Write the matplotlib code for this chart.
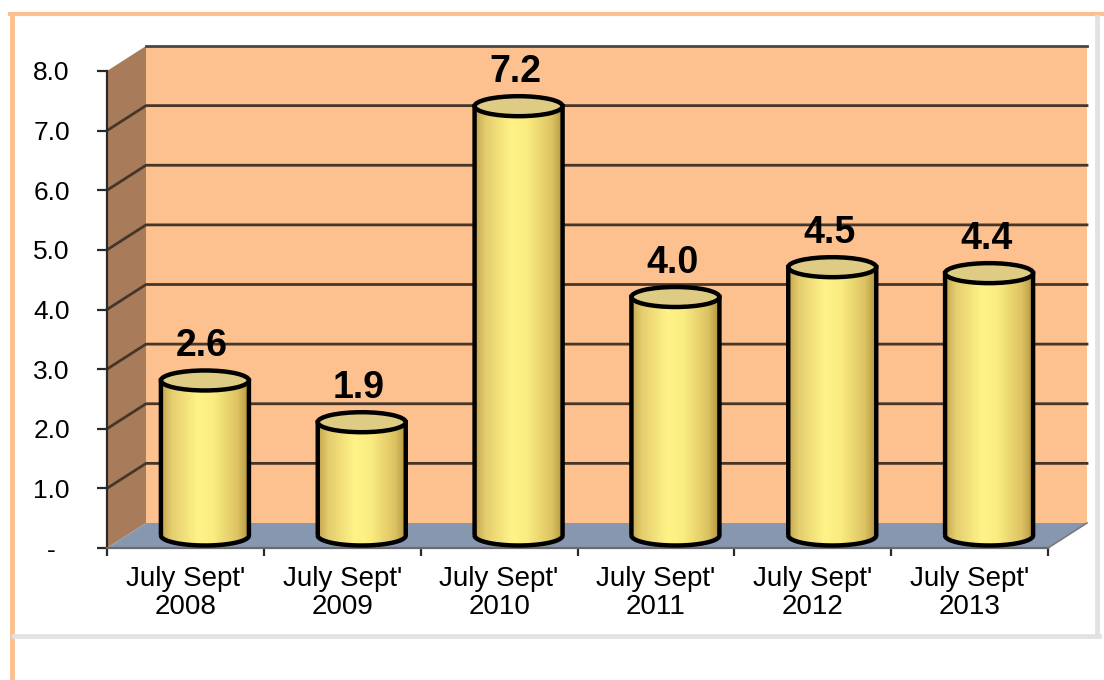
import numpy as np
import matplotlib.pyplot as plt
from matplotlib.patches import Polygon, Ellipse, PathPatch
from matplotlib.path import Path
from matplotlib.lines import Line2D
from matplotlib.colors import LinearSegmentedColormap

plt.rcParams['font.family'] = ['Liberation Sans', 'DejaVu Sans']

# data
periods = ["July Sept'\n2008", "July Sept'\n2009", "July Sept'\n2010",
           "July Sept'\n2011", "July Sept'\n2012", "July Sept'\n2013"]
values = [2.6, 1.9, 7.2, 4.0, 4.5, 4.4]
y_ticks = [0, 1, 2, 3, 4, 5, 6, 7, 8]
y_labels = ['-', '1.0', '2.0', '3.0', '4.0', '5.0', '6.0', '7.0', '8.0']

W, H = 1104, 680
fig = plt.figure(figsize=(W / 100, H / 100), dpi=100)
fig.patch.set_facecolor('white')

# front plane of the fake 3-d box
ax = fig.add_axes([107 / W, 132 / H, 941 / W, 477 / H])
n = len(values)
ax.set_xlim(0, n)
ax.set_ylim(0, 8)
ax.set_facecolor('none')

px = n / 941.0   # data units per pixel, x
py = 8 / 477.0   # data units per pixel, y
DX, DY = 39 * px, 25 * py
bar_w = 88 * px
ell_h = 20 * py

# walls and floor
back = Polygon([(DX, DY), (n + DX, DY), (n + DX, 8 + DY), (DX, 8 + DY)],
               closed=True, fc='#FCC18F', ec='none', zorder=1, clip_on=False)
side = Polygon([(0, 0), (DX, DY), (DX, 8 + DY), (0, 8)],
               closed=True, fc='#A87C5B', ec='none', zorder=1, clip_on=False)
floor = Polygon([(0, 0), (n, 0), (n + DX, DY), (DX, DY)],
                closed=True, fc='#8797B0', ec='none', zorder=1.5, clip_on=False)
for p in (back, side, floor):
    ax.add_patch(p)

for v in y_ticks[1:-1]:
    ax.plot([0, DX, n + DX], [v, v + DY, v + DY], color='#46362A', lw=2,
            zorder=2, clip_on=False)
ax.plot([DX, n + DX], [8 + DY, 8 + DY], color='#464646', lw=2, zorder=2,
        clip_on=False)
ax.plot([n, n + DX], [0, DY], color='#7A7A7A', lw=1.2, zorder=2, clip_on=False)

# cylinders
cmap = LinearSegmentedColormap.from_list('gold', [
    (0.0, '#C2A54E'), (0.12, '#E4CD6E'), (0.42, '#FFF388'),
    (0.6, '#FAEC80'), (0.88, '#DCC262'), (1.0, '#B3963F')])
grad = np.linspace(0, 1, 256).reshape(1, -1)
a, b = bar_w / 2, ell_h / 2
t_arc = np.linspace(0, -np.pi, 60)

for i, v in enumerate(values):
    cx = i + 0.5 + DX / 2
    y0 = DY / 2
    y1 = v + DY / 2
    verts = [(cx - a, y0), (cx - a, y1), (cx + a, y1), (cx + a, y0)]
    verts += [(cx + a * np.cos(t), y0 + b * np.sin(t)) for t in t_arc]
    verts.append((cx - a, y0))
    body = Path(verts)
    clip = PathPatch(body, fc='none', ec='none', transform=ax.transData)
    ax.add_patch(clip)
    im = ax.imshow(grad, cmap=cmap, aspect='auto', zorder=5,
                   extent=[cx - a, cx + a, y0 - b, y1], interpolation='bilinear')
    im.set_clip_path(clip)
    ax.add_patch(PathPatch(body, fc='none', ec='black', lw=3.2, zorder=6))
    ax.add_patch(Ellipse((cx, y1), bar_w, ell_h, fc='#DECB84', ec='black',
                         lw=3.2, zorder=7))
    ax.annotate(f'{v:.1f}', xy=(cx, y1), xytext=(-3, 34),
                textcoords='offset pixels', ha='center', va='center',
                fontsize=27, fontweight='bold', color='black', zorder=8)

ax.set_xlim(0, n)
ax.set_ylim(0, 8)

# axes
for s in ('top', 'right'):
    ax.spines[s].set_visible(False)
ax.spines['left'].set_color('#2A2A2A')
ax.spines['left'].set_linewidth(1.6)
ax.spines['bottom'].set_color('#6A6A6A')
ax.spines['bottom'].set_linewidth(1.6)
for s in ('left', 'bottom'):
    ax.spines[s].set_zorder(3)

ax.set_yticks(y_ticks)
ax.set_yticklabels(y_labels, fontsize=19)
ax.tick_params(axis='y', direction='out', length=7, width=1.6,
               color='#2A2A2A', pad=33)
for lab in ax.get_yticklabels():
    lab.set_horizontalalignment('center')

ax.set_xticks(np.arange(n) + 0.5)
ax.set_xticklabels(periods, fontsize=20, linespacing=1.1)
ax.set_xticks(np.arange(n + 1), minor=True)
ax.tick_params(axis='x', which='major', length=0, pad=13)
ax.tick_params(axis='x', which='minor', direction='out', length=6, width=1.6,
               color='#2A2A2A')

# page frame
fig.add_artist(Line2D([10 / W, 1], [1 - 14 / H, 1 - 14 / H], color='#FBC08F',
                      lw=3))
fig.add_artist(Line2D([12 / W, 12 / W], [0, 1 - 14 / H], color='#FBC08F', lw=3.5))
fig.add_artist(Line2D([14 / W, 1099 / W], [1 - 636 / H, 1 - 636 / H],
                      color='#E2E2E2', lw=3.5))
fig.add_artist(Line2D([1097 / W, 1097 / W], [1 - 17 / H, 1 - 636 / H],
                      color='#E2E2E2', lw=3.5))

fig.savefig('out.png', dpi=100)
